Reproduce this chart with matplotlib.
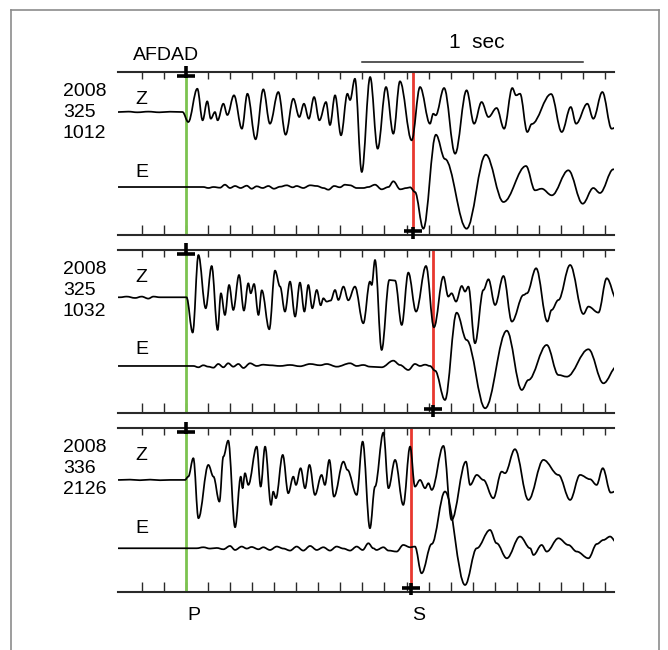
import matplotlib
matplotlib.use("Agg")
import matplotlib.pyplot as plt
from matplotlib.path import Path
from matplotlib.patches import PathPatch
from matplotlib.lines import Line2D

plt.rcParams['font.family'] = ['Liberation Sans', 'DejaVu Sans']

# ---------------- data ----------------
STATION = "AFDAD"
EVENT_LABELS = [["2008", "325", "1012"],
                ["2008", "325", "1032"],
                ["2008", "336", "2126"]]
COMPONENTS = ["Z", "E"]
P_TIME = 0.2                       # s
S_TIMES = [1.231, 1.321, 1.220]    # s, per event
TICKS = [i / 10 for i in range(22)]
SCALE_BAR = (1.0, 2.0)
SCALE_LABEL = "1  sec"
PHASES = ["P", "S"]

# traces: (time s, amplitude px) peaks / troughs
Z1 = [(-0.106, 0), (-0.06, 0.4), (-0.02, -0.3), (0.03, 0.4), (0.08, -0.3), (0.128, 0.3), (0.185, 0),
      (0.211, -10), (0.252, 23.3), (0.276, -8.3), (0.297, 10.7), (0.313, -6.7), (0.332, 0), (0.344, -8.3),
      (0.370, 8.3), (0.388, -3), (0.418, 16.7), (0.454, -16.7), (0.479, 18.3), (0.516, -27.3),
      (0.551, 22.7), (0.581, -11.7), (0.619, 20), (0.652, -22.7), (0.687, 13.3), (0.714, -5),
      (0.735, 8.3), (0.757, -6.7), (0.781, 15), (0.805, -8.3), (0.835, 10), (0.853, -13),
      (0.876, 16.7), (0.903, -23.3), (0.932, 18.3), (0.944, 12), (0.966, 33.3), (0.997, -60),
      (1.035, 35), (1.069, -36.7), (1.107, 25), (1.140, -21.7), (1.170, 30.7), (1.223, -28.3),
      (1.261, 25), (1.306, -11.7), (1.321, -1.7), (1.332, -3.3), (1.370, 24), (1.420, -41.7),
      (1.472, 21.7), (1.506, -11.7), (1.540, 10), (1.571, -5), (1.608, 4), (1.642, -16.7),
      (1.679, 24), (1.696, 16.7), (1.714, 18.3), (1.747, -20), (1.767, -12), (1.855, 18),
      (1.903, -20), (1.944, 5), (1.968, -11.7), (2.019, 8.3), (2.046, -6.7), (2.087, 20),
      (2.129, -16.7), (2.152, -15)]
E1 = [(-0.106, 0), (0.279, 0), (0.302, -1), (0.325, 0), (0.355, -0.7), (0.377, 2.3), (0.400, -1),
      (0.423, 1), (0.448, -1), (0.476, 1.3), (0.498, -1.7), (0.521, 0.7), (0.548, -1), (0.574, 1),
      (0.599, -1.7), (0.627, 0.3), (0.657, 1.7), (0.684, -0.3), (0.702, 1), (0.732, -1), (0.763, 1.7),
      (0.793, 1), (0.823, -1), (0.846, -2.7), (0.872, 1), (0.898, -0.3), (0.921, 2.3), (0.944, 1.7),
      (0.974, -1), (1.004, -1), (1.027, 0), (1.057, 2.3), (1.087, -2.3), (1.118, 0), (1.140, 5.7),
      (1.171, -2.3), (1.201, -1), (1.216, -0.3), (1.238, -5), (1.276, -41.7), (1.333, 52.3),
      (1.374, 28), (1.472, -41.7), (1.559, 32.3), (1.639, -15), (1.741, 21), (1.782, -3.3),
      (1.812, -1.7), (1.858, -8.3), (1.933, 16.7), (1.998, -16.7), (2.046, -1), (2.076, -6),
      (2.137, 17.7), (2.152, 16.7)]
Z2 = [(-0.106, 0), (-0.098, 0), (-0.068, 0.7), (-0.030, -0.7), (0.0, 0.7), (0.030, -1.3), (0.053, 0.7),
      (0.083, 0), (0.203, 0), (0.231, -35.3), (0.257, 42.3), (0.290, -11), (0.317, 31.3),
      (0.344, -32.7), (0.359, 4), (0.377, -17.7), (0.396, 12.3), (0.415, -12.7), (0.441, 22.3),
      (0.463, -13.3), (0.483, 14), (0.494, 4), (0.509, 13.3), (0.529, -17.7), (0.544, 7),
      (0.578, -32), (0.604, 26.7), (0.627, 10.7), (0.649, -14.3), (0.672, 15.7), (0.695, -19.3),
      (0.717, 14.7), (0.737, -14.3), (0.755, 12.3), (0.773, -11), (0.793, 7.3), (0.811, -8),
      (0.823, -1), (0.838, -4.3), (0.856, -3.3), (0.876, 7.3), (0.891, -2.7), (0.914, 10.7),
      (0.936, -3), (0.966, 10.7), (1.004, -26), (1.034, 15.7), (1.042, 12.3), (1.057, 37.3),
      (1.087, -52.7), (1.122, 17.3), (1.148, 16.7), (1.178, -27.7), (1.208, 24.7), (1.243, -14.3),
      (1.288, 31.3), (1.324, -30), (1.367, 20.7), (1.389, 0.7), (1.404, 4), (1.424, -4.3),
      (1.450, 11.3), (1.465, 5.7), (1.480, 10.7), (1.510, -46), (1.548, 7.3), (1.571, 18),
      (1.601, -7.7), (1.639, 21.3), (1.677, -24.3), (1.730, 2.3), (1.745, 4), (1.787, 29),
      (1.838, -24.3), (1.857, -12.7), (1.888, -2.7), (1.941, 32.3), (2.001, -16.7), (2.024, -9.3),
      (2.069, -15.3), (2.107, 19), (2.152, -2)]
E2 = [(-0.106, 0), (0.234, 0), (0.257, -1.3), (0.279, 0.7), (0.302, -0.7), (0.325, -1.7), (0.347, 2),
      (0.370, -1.3), (0.392, 2.7), (0.415, -0.7), (0.438, 2), (0.461, -2), (0.491, 2.7), (0.521, 0),
      (0.551, 1.3), (0.581, 0.7), (0.627, 0), (0.672, 1), (0.717, -0.3), (0.763, 2), (0.808, 0.7),
      (0.838, 2), (0.884, -0.7), (0.944, 2.7), (0.974, 0), (1.004, 1), (1.034, -0.7), (1.087, -1.3),
      (1.140, 5.3), (1.170, 1), (1.208, -4), (1.238, 2), (1.261, 0), (1.284, 1.3), (1.306, 0),
      (1.329, -4.7), (1.374, -34), (1.427, 53.3), (1.472, 26), (1.556, -42.3), (1.654, 35.3),
      (1.722, -24), (1.752, -14), (1.835, 21), (1.888, -9), (1.926, -10.7), (2.024, 16.7),
      (2.092, -17.3), (2.152, -0.7)]
Z3 = [(-0.106, 0), (-0.098, 0), (-0.053, 0.3), (-0.008, -0.3), (0.038, 0.3), (0.083, -0.3), (0.128, 0),
      (0.196, 0), (0.211, 3.3), (0.234, 21.7), (0.257, -38.3), (0.302, 15), (0.325, 3.3),
      (0.352, -21.7), (0.370, 23.3), (0.392, 39.3), (0.423, -47.3), (0.449, 3.3), (0.457, -8.3),
      (0.468, 6.7), (0.483, -5), (0.521, 33.3), (0.539, -6.7), (0.559, 33.3), (0.586, -25),
      (0.596, -11.7), (0.608, -18.3), (0.639, 25), (0.664, -13.3), (0.687, 3.3), (0.699, -5),
      (0.720, 11.7), (0.740, -8.3), (0.760, 15), (0.785, -15), (0.815, 5), (0.830, -5), (0.850, 20),
      (0.871, -16.7), (0.914, 18.3), (0.932, 10), (0.974, -15), (1.001, 38.3), (1.034, -48.3),
      (1.057, -6.7), (1.095, 47.3), (1.118, -8.3), (1.148, 20), (1.185, -25), (1.216, 33.3),
      (1.238, -6.7), (1.261, 0), (1.284, -8.3), (1.299, -3.3), (1.314, -10), (1.367, 34),
      (1.404, -40), (1.469, 18.3), (1.488, -5), (1.518, 5), (1.548, 0), (1.593, -18.3),
      (1.631, 8.3), (1.646, 6.7), (1.691, 30.7), (1.752, -20), (1.820, 20), (1.888, 5),
      (1.941, -20), (1.986, 5), (2.031, 0.7), (2.061, -5), (2.089, 11.7), (2.125, -12.7),
      (2.152, -11)]
E3 = [(-0.106, 0), (0.249, 0), (0.279, 1), (0.309, -0.3), (0.340, 0.3), (0.370, -1), (0.400, 2.3),
      (0.423, -1.7), (0.453, 1.7), (0.476, -0.3), (0.498, 1.3), (0.529, -1), (0.551, 1), (0.581, -1.7),
      (0.612, 1.7), (0.642, -0.3), (0.672, -2.3), (0.702, 1.7), (0.732, -2.3), (0.763, 2.3),
      (0.793, -1.7), (0.823, 1), (0.853, -2.3), (0.883, 1.7), (0.914, -0.3), (0.944, -2.3),
      (0.974, 1.7), (1.001, -1.7), (1.027, 5), (1.049, 0), (1.064, -1.7), (1.095, 1), (1.118, -2.3),
      (1.155, -3.3), (1.185, 3.3), (1.216, 1), (1.238, 1.7), (1.268, -25), (1.314, 4.3),
      (1.374, 56.7), (1.465, -36.7), (1.518, 0), (1.578, 18.3), (1.608, 5), (1.654, -10),
      (1.714, 11.7), (1.760, 0), (1.775, -6.7), (1.812, 3.3), (1.835, -3.3), (1.888, 10),
      (1.933, 3.3), (1.971, -3.3), (2.024, -10), (2.062, 4.3), (2.092, 8.3), (2.122, 11.7),
      (2.152, 5.7)]
TRACES = [(Z1, E1), (Z2, E2), (Z3, E3)]

# ---------------- layout / style ----------------
PANEL_H = 163.3
BASELINES = [(123.3, 48.3), (116.0, 47.3), (111.7, 43.4)]
AX_RECTS = [[0.1771, 0.6380, 0.7428, 0.2512],
            [0.1771, 0.3642, 0.7428, 0.2512],
            [0.1771, 0.0897, 0.7428, 0.2514]]
XLIM = (-0.106, 2.142)
AXIS_COLOR = '#2a2a2a'
GREEN = '#7cc34f'
RED = '#e8382f'
FS = 14


def wave_path(points, base):
    verts = [(points[0][0], base + points[0][1])]
    codes = [Path.MOVETO]
    for (t0, a0), (t1, a1) in zip(points[:-1], points[1:]):
        dt = t1 - t0
        verts += [(t0 + 0.364 * dt, base + a0), (t1 - 0.364 * dt, base + a1), (t1, base + a1)]
        codes += [Path.CURVE4] * 3
    return Path(verts, codes)


fig = plt.figure(figsize=(6.68, 6.5), dpi=100)

# outer frame (left, top, right)
for xs, ys in [([0.0165, 0.0165], [0.0, 0.9846]),
               ([0.0165, 0.986], [0.9846, 0.9846]),
               ([0.986, 0.986], [0.0, 0.9846])]:
    fig.add_artist(Line2D(xs, ys, color='#8c8c8c', lw=1.2, transform=fig.transFigure))

axes = []
for i, rect in enumerate(AX_RECTS):
    ax = fig.add_axes(rect)
    axes.append(ax)
    ax.set_xlim(*XLIM)
    ax.set_ylim(0, PANEL_H)
    ax.set_facecolor('none')
    for side in ('left', 'right'):
        ax.spines[side].set_visible(False)
    for side in ('top', 'bottom'):
        ax.spines[side].set_linewidth(1.5)
        ax.spines[side].set_color(AXIS_COLOR)
    ax.set_yticks([])
    ax.set_xticks(TICKS)
    ax.tick_params(axis='x', direction='in', length=7.2, width=1.0, color=AXIS_COLOR,
                   labelbottom=False, bottom=True, top=False)
    sec = ax.secondary_xaxis('top')
    sec.set_xticks(TICKS)
    sec.tick_params(axis='x', direction='in', length=5.3, width=1.0, color=AXIS_COLOR,
                    labeltop=False)
    sec.spines['top'].set_visible(False)

    zb, eb = BASELINES[i]
    z, e = TRACES[i]
    for pts, base in ((z, zb), (e, eb)):
        ax.add_patch(PathPatch(wave_path(pts, base), fill=False, lw=1.25, ec='black', zorder=3,
                               joinstyle='round', capstyle='round'))

    # phase lines
    ax.plot([P_TIME, P_TIME], [0, PANEL_H - 4], color=GREEN, lw=2.0, zorder=2, solid_capstyle='butt')
    ax.plot([S_TIMES[i], S_TIMES[i]], [4, PANEL_H], color=RED, lw=2.0, zorder=2, solid_capstyle='butt')

    # pick marks
    ax.plot([P_TIME], [PANEL_H - 4], marker='_', ms=12.5, mew=2.6, color='black', clip_on=False, zorder=5)
    ax.plot([P_TIME], [PANEL_H + 0.5], marker='|', ms=8.5, mew=2.6, color='black', clip_on=False, zorder=5)
    ax.plot([S_TIMES[i]], [4], marker='_', ms=12.5, mew=2.6, color='black', clip_on=False, zorder=5)
    ax.plot([S_TIMES[i]], [2.5], marker='|', ms=8.5, mew=2.6, color='black', clip_on=False, zorder=5)

    # labels
    for k, txt in enumerate(EVENT_LABELS[i]):
        ax.text(-0.357, PANEL_H - 19.7 - 20.7 * k, txt, fontsize=FS, ha='left', va='center',
                clip_on=False)
    ax.text(-0.030, PANEL_H - 27.5, COMPONENTS[0], fontsize=FS, ha='left', va='center')
    ax.text(-0.030, PANEL_H - 100, COMPONENTS[1], fontsize=FS, ha='left', va='center')

ax1 = axes[0]
ax1.text(-0.038, PANEL_H + 16.5, STATION, fontsize=FS, ha='left', va='center', clip_on=False)
ax1.plot(list(SCALE_BAR), [PANEL_H + 10, PANEL_H + 10], color=AXIS_COLOR, lw=1.1, clip_on=False)
ax1.text(1.52, PANEL_H + 30, SCALE_LABEL, fontsize=FS + 1, ha='center', va='center', clip_on=False)

ax3 = axes[2]
ax3.text(P_TIME + 0.006, -23.3, PHASES[0], fontsize=FS, ha='left', va='center', clip_on=False)
ax3.text(S_TIMES[2] + 0.006, -23.3, PHASES[1], fontsize=FS, ha='left', va='center', clip_on=False)

fig.savefig("out.png", dpi=100)
